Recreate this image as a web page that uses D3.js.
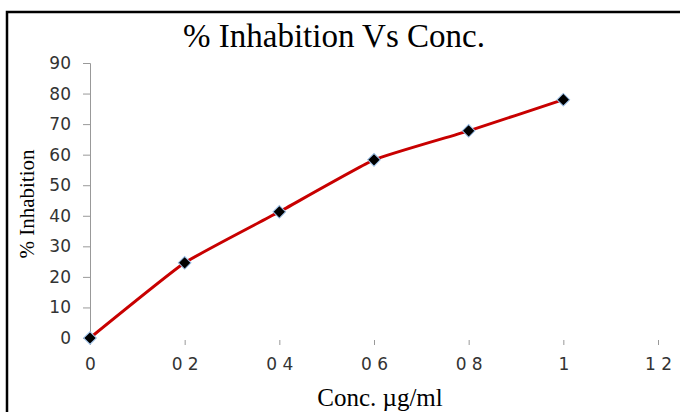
<!DOCTYPE html>
<html>
<head>
<meta charset="utf-8">
<script src="https://cdn.jsdelivr.net/npm/d3@7"></script>
<style>
  body { margin: 0; background: #fff; }
  svg { display: block; }
</style>
</head>
<body>
<div id="graphic"></div>
<script>
// data
const conc = [0, 0.2, 0.4, 0.6, 0.8, 1];
const inhibition = [0, 24.6, 41.3, 58.3, 67.8, 78.0];
const xTicks = [0, 0.2, 0.4, 0.6, 0.8, 1, 1.2];
const xTickLabels = ['0', '0 2', '0 4', '0 6', '0 8', '1', '1 2'];
const yTicks = [0, 10, 20, 30, 40, 50, 60, 70, 80, 90];

const width = 680, height = 412;
const margin = { top: 63, right: 22, bottom: 74, left: 90 };

const svg = d3.select('#graphic').append('svg')
  .attr('width', width)
  .attr('height', height);

// outer frame (left + top edges only are visible)
svg.append('path')
  .attr('d', 'M7,' + height + 'V12H' + width)
  .attr('fill', 'none')
  .attr('stroke', '#000')
  .attr('stroke-width', 2.5);

const x = d3.scaleLinear().domain([0, 1.2]).range([margin.left, 658]);
const y = d3.scaleLinear().domain([0, 90]).range([338, margin.top]);

const tickFont = 'DejaVu Sans, Verdana, sans-serif';

// y axis
const yAxis = d3.axisLeft(y).tickValues(yTicks).tickSize(7).tickPadding(12);
const gy = svg.append('g')
  .attr('transform', 'translate(' + margin.left + ',0)')
  .call(yAxis);
gy.select('.domain').attr('stroke', '#999').attr('stroke-width', 1);
gy.selectAll('.tick line').attr('stroke', '#999');
gy.selectAll('.tick text')
  .attr('font-family', tickFont)
  .attr('font-size', 17)
  .attr('fill', '#333');

// x axis: only tick marks, no line
const xAxis = d3.axisBottom(x).tickValues(xTicks)
  .tickFormat((d, i) => xTickLabels[i]).tickSize(6).tickPadding(13);
const gx = svg.append('g')
  .attr('transform', 'translate(0,339)')
  .call(xAxis);
gx.select('.domain').remove();
gx.selectAll('.tick line').attr('stroke', '#999').attr('y1', 1);
gx.selectAll('.tick text')
  .attr('font-family', tickFont)
  .attr('font-size', 17)
  .attr('fill', '#333');

// lightly smoothed line
const points = conc.map((c, i) => [c, inhibition[i]]);
const line = d3.line()
  .x(d => x(d[0]))
  .y(d => y(d[1]))
  .curve(d3.curveCardinal.tension(0.6));

svg.append('path')
  .datum(points)
  .attr('d', line)
  .attr('fill', 'none')
  .attr('stroke', '#c80000')
  .attr('stroke-width', 3);

// diamond markers (rotated squares)
svg.selectAll('.marker')
  .data(points)
  .enter().append('path')
  .attr('class', 'marker')
  .attr('transform', d => 'translate(' + x(d[0]) + ',' + y(d[1]) + ') rotate(45)')
  .attr('d', d3.symbol().type(d3.symbolSquare).size(80))
  .attr('fill', '#000')
  .attr('stroke', '#9cc0e8')
  .attr('stroke-width', 1);

// titles
svg.append('text')
  .attr('x', 334)
  .attr('y', 47)
  .attr('text-anchor', 'middle')
  .attr('font-family', 'Liberation Serif, Times New Roman, serif')
  .attr('font-size', 33)
  .attr('fill', '#000')
  .text('% Inhabition Vs Conc.');

svg.append('text')
  .attr('x', 380)
  .attr('y', 406)
  .attr('text-anchor', 'middle')
  .attr('font-family', 'Liberation Serif, Times New Roman, serif')
  .attr('font-size', 25)
  .attr('fill', '#000')
  .text('Conc. µg/ml');

svg.append('text')
  .attr('transform', 'translate(34,204) rotate(-90)')
  .attr('text-anchor', 'middle')
  .attr('font-family', 'Liberation Serif, Times New Roman, serif')
  .attr('font-size', 21)
  .attr('fill', '#000')
  .text('% Inhabition');
</script>
</body>
</html>
